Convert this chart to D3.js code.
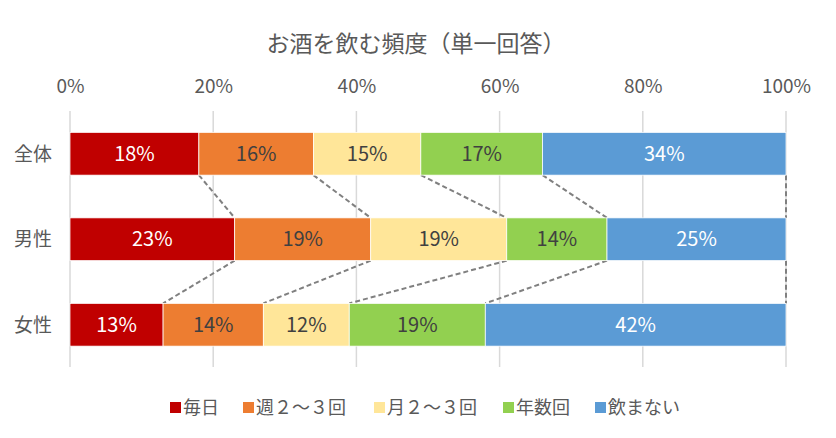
<!DOCTYPE html>
<html><head><meta charset="utf-8">
<script src="https://cdn.jsdelivr.net/npm/d3@7"></script>
<style>body{margin:0;background:#fff}</style>
</head><body>
<svg id="chart" width="836" height="438"></svg>
<script>
const title = "お酒を飲む頻度（単一回答）";
const categories = ["全体", "男性", "女性"];
const seriesNames = ["毎日", "週２～３回", "月２～３回", "年数回", "飲まない"];
const seriesColors = ["#C00000", "#ED7D31", "#FFE699", "#92D050", "#5B9BD5"];
const labelColors = ["#ffffff", "#404040", "#404040", "#404040", "#ffffff"];
const daily = [18, 23, 13];
const weekly = [16, 19, 14];
const monthly = [15, 19, 12];
const yearly = [17, 14, 19];
const never = [34, 25, 42];
const tickValues = [0, 0.2, 0.4, 0.6, 0.8, 1.0];

const seriesValues = [daily, weekly, monthly, yearly, never];
const font = "'Noto Sans CJK JP', 'Noto Sans', sans-serif";
const svg = d3.select("#chart");

const x = d3.scaleLinear().domain([0, 1]).range([70, 786]);
const y = d3.scaleBand().domain(categories).range([111, 367.5]).paddingInner(0.5).paddingOuter(0.25);

const rows = categories.map((c, i) => {
  const vals = seriesValues.map(s => s[i]);
  const total = d3.sum(vals);
  let cum = 0;
  return {cat: c, segs: vals.map((v, j) => { const s = {cat: c, j, v, p0: cum / total, p1: (cum + v) / total}; cum += v; return s; })};
});

svg.append("text").attr("x", 416).attr("y", 44).attr("dy", "0.36em").attr("text-anchor", "middle")
  .attr("font-family", font).attr("font-size", 23).attr("fill", "#595959").text(title);

// gridlines
svg.append("g").selectAll("line").data(tickValues).join("line")
  .attr("x1", d => x(d)).attr("x2", d => x(d)).attr("y1", 111).attr("y2", 367)
  .attr("stroke", "#d9d9d9").attr("stroke-width", 1.5);

// top axis labels
const axis = svg.append("g").attr("transform", "translate(0,93)")
  .call(d3.axisTop(x).tickValues(tickValues).tickFormat(d3.format(".0%")).tickSize(0).tickPadding(0));
axis.select(".domain").remove();
axis.selectAll("text").attr("font-family", font).attr("font-size", 19).attr("fill", "#595959");

// category labels
svg.append("g").selectAll("text").data(categories).join("text")
  .attr("x", 33).attr("y", d => y(d) + y.bandwidth() / 2).attr("dy", "0.36em")
  .attr("text-anchor", "middle").attr("font-family", font).attr("font-size", 19).attr("fill", "#595959")
  .text(d => d);

// connectors
const conn = [];
for (let i = 0; i < rows.length - 1; i++) {
  rows[i].segs.forEach((s, j) => {
    conn.push({x1: x(s.p1), y1: y(rows[i].cat) + y.bandwidth(), x2: x(rows[i + 1].segs[j].p1), y2: y(rows[i + 1].cat)});
  });
}
svg.append("g").selectAll("line").data(conn).join("line")
  .attr("x1", d => d.x1).attr("y1", d => d.y1).attr("x2", d => d.x2).attr("y2", d => d.y2)
  .attr("stroke", "#808080").attr("stroke-width", 2).attr("stroke-dasharray", "5,3");

// bars
const g = svg.append("g");
rows.forEach(r => {
  g.selectAll(null).data(r.segs).join("rect")
    .attr("x", d => x(d.p0)).attr("y", y(r.cat)).attr("width", d => x(d.p1) - x(d.p0)).attr("height", y.bandwidth())
    .attr("fill", d => seriesColors[d.j]).attr("stroke", "#ffffff").attr("stroke-width", 0.75);
  g.selectAll(null).data(r.segs).join("text")
    .attr("x", d => (x(d.p0) + x(d.p1)) / 2).attr("y", y(r.cat) + y.bandwidth() / 2).attr("dy", "0.36em")
    .attr("text-anchor", "middle").attr("font-family", font).attr("font-size", 20)
    .attr("fill", d => labelColors[d.j]).text(d => Math.round(d.v) + "%");
});

// legend
const legendX = [170, 243, 374, 503, 595];
const lg = svg.append("g");
seriesNames.forEach((n, j) => {
  lg.append("rect").attr("x", legendX[j]).attr("y", 402).attr("width", 11).attr("height", 11).attr("fill", seriesColors[j]);
  lg.append("text").attr("x", legendX[j] + 13).attr("y", 408).attr("dy", "0.36em")
    .attr("font-family", font).attr("font-size", 18).attr("fill", "#595959").text(n);
});
</script>
</body></html>
